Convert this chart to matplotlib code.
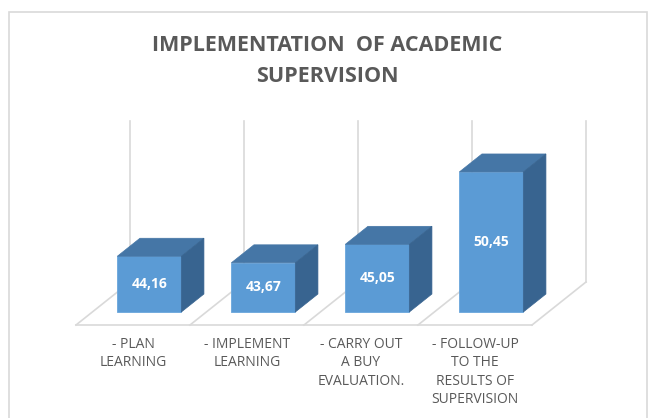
#!/usr/bin/env python3
"""
Excel-style 3D column chart: implementation of academic supervision.
"""

import matplotlib

matplotlib.use("Agg")
import matplotlib.pyplot as plt
import numpy as np
from matplotlib.patches import Polygon, Rectangle


categories = [
    "- PLAN\nLEARNING",
    "- IMPLEMENT\nLEARNING",
    "- CARRY OUT\nA BUY\nEVALUATION.",
    "- FOLLOW-UP\nTO THE\nRESULTS OF\nSUPERVISION",
]
values = [44.16, 43.67, 45.05, 50.45]
value_labels = ["44,16", "43,67", "45,05", "50,45"]

Y_MIN = 40.0
Y_MAX = 52.0

# pixel geometry of the oblique projection
W, H = 654, 418
PX_CAT = 114.0          # pixels per category
PX_VAL = 13.4           # pixels per value unit
X0_PX = 133.0           # centre of first category at the front edge
Y0_PX = 325.0           # front edge of the floor
DX = 54.0 / PX_CAT      # full depth shift, category units
DY = 43.0 / PX_VAL      # full depth shift, value units
D_FRONT = 13.0 / 43.0   # depth of bar front face
D_BACK = 31.0 / 43.0    # depth of bar back face
BAR_W = 64.0 / PX_CAT

FRONT = "#5b9bd5"
TOP = "#4576a6"
SIDE = "#386490"
GRID = "#d9d9d9"
TEXT = "#595959"

fig = plt.figure(figsize=(W / 100, H / 100), dpi=100)
ax = fig.add_axes([0, 0, 1, 1])
ax.set_xlim(-X0_PX / PX_CAT, (W - X0_PX) / PX_CAT)
ax.set_ylim(Y_MIN - (H - Y0_PX) / PX_VAL, Y_MIN + Y0_PX / PX_VAL)
ax.axis("off")

# chart area border
fig.patches.append(
    Rectangle((9 / W, -0.05), 638 / W, 1.05 - 12 / H, transform=fig.transFigure,
              fill=False, edgecolor=GRID, linewidth=1.2)
)

# floor and back wall lines
n = len(categories)
bounds = np.arange(n + 1) - 0.5
ax.plot([bounds[0], bounds[-1]], [Y_MIN, Y_MIN], color=GRID, lw=1.2, zorder=1)
for b in bounds:
    ax.plot([b, b + DX], [Y_MIN, Y_MIN + DY], color=GRID, lw=1.2, zorder=1)
    ax.plot([b + DX, b + DX], [Y_MIN + DY, Y_MAX + DY], color=GRID, lw=1.2, zorder=1)

# bars
xs = np.arange(n) + D_FRONT * DX
heights = np.array(values) - Y_MIN
ax.bar(xs, heights, bottom=Y_MIN + D_FRONT * DY, width=BAR_W, color=FRONT,
       edgecolor="#6aa6dc", linewidth=0.6, zorder=3)

dd = D_BACK - D_FRONT
for x, v, lab in zip(xs, values, value_labels):
    top_front = v + D_FRONT * DY
    left, right = x - BAR_W / 2, x + BAR_W / 2
    top = [(left, top_front), (right, top_front),
           (right + dd * DX, top_front + dd * DY), (left + dd * DX, top_front + dd * DY)]
    side = [(right, Y_MIN + D_FRONT * DY), (right, top_front),
            (right + dd * DX, top_front + dd * DY), (right + dd * DX, Y_MIN + D_BACK * DY)]
    ax.add_patch(Polygon(top, closed=True, facecolor=TOP, edgecolor=TOP, lw=0.5, zorder=3))
    ax.add_patch(Polygon(side, closed=True, facecolor=SIDE, edgecolor=SIDE, lw=0.5, zorder=3))
    ax.text(x, (Y_MIN + v) / 2 + D_FRONT * DY, lab, ha="center", va="center",
            color="white", fontsize=10, fontweight="bold", family="Open Sans", zorder=4)

# category labels
for i, cat in enumerate(categories):
    ax.text(i, Y_MIN - 12.0 / PX_VAL, cat, ha="center", va="top", color=TEXT,
            fontsize=10, family="Open Sans", linespacing=1.3, multialignment="center")

fig.text(0.5, 1 - 35 / H, "IMPLEMENTATION  OF ACADEMIC\nSUPERVISION", ha="center", va="top",
         color=TEXT, fontsize=15.5, fontweight="bold", family="Open Sans", linespacing=1.65)

fig.savefig("out.png", dpi=100)
plt.close(fig)
